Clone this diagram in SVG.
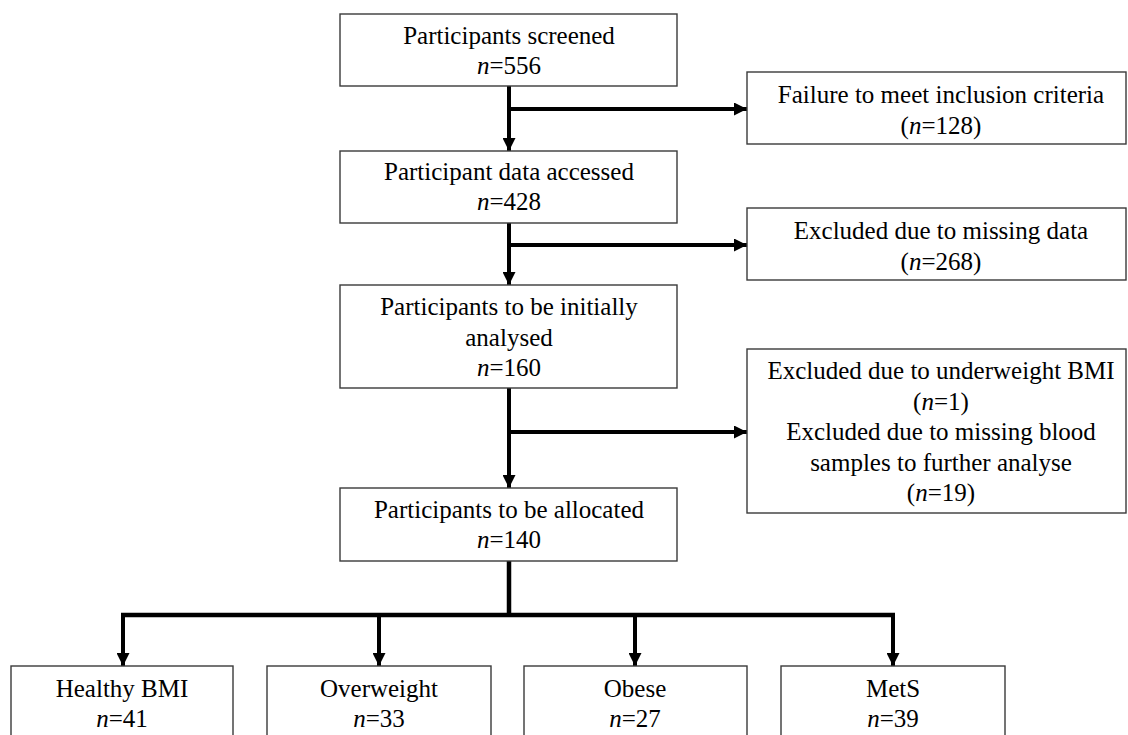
<svg xmlns="http://www.w3.org/2000/svg" width="1128" height="735" viewBox="0 0 1128 735">
<style>
.box{fill:#fff;stroke:#3a3a3a;stroke-width:1.4}
.t{font-family:"Liberation Serif","Times New Roman",serif;font-size:25px;fill:#000;text-anchor:middle}
.i{font-style:italic}
.ln{fill:none;stroke:#000;stroke-width:4.5}
.ar{fill:none;stroke:#000;stroke-width:4;marker-end:url(#ah)}
</style>
<defs>
<marker id="ah" markerUnits="userSpaceOnUse" markerWidth="13" markerHeight="13" refX="13" refY="6.5" orient="auto">
<path d="M0,0 L13,6.5 L0,13 z" fill="#000"/>
</marker>
</defs>
<rect width="1128" height="735" fill="#fff"/>
<g id="connectors">
<path class="ar" d="M509,86 V151"/>
<path class="ar" d="M509,109 H747"/>
<path class="ar" d="M509,223 V285"/>
<path class="ar" d="M509,245 H747"/>
<path class="ar" d="M509,388 V488"/>
<path class="ar" d="M509,432 H747"/>
<path class="ln" d="M509,561 V615"/>
<path class="ln" d="M121,615 H895"/>
<path class="ar" d="M123,613 V666"/>
<path class="ar" d="M379,613 V666"/>
<path class="ar" d="M635,613 V666"/>
<path class="ar" d="M893,613 V666"/>
</g>
<g id="screened">
<rect class="box" x="340" y="14" width="337" height="72"/>
<text class="t" x="509" y="44">Participants screened</text>
<text class="t" x="509" y="74"><tspan class="i">n</tspan>=556</text>
</g>
<g id="accessed">
<rect class="box" x="340" y="151" width="337" height="72"/>
<text class="t" x="509" y="180">Participant data accessed</text>
<text class="t" x="509" y="210"><tspan class="i">n</tspan>=428</text>
</g>
<g id="initial">
<rect class="box" x="340" y="285" width="337" height="103"/>
<text class="t" x="509" y="315">Participants to be initially</text>
<text class="t" x="509" y="346">analysed</text>
<text class="t" x="509" y="376"><tspan class="i">n</tspan>=160</text>
</g>
<g id="allocated">
<rect class="box" x="340" y="488" width="337" height="73"/>
<text class="t" x="509" y="518">Participants to be allocated</text>
<text class="t" x="509" y="548"><tspan class="i">n</tspan>=140</text>
</g>
<g id="fail">
<rect class="box" x="747" y="72" width="379" height="72"/>
<text class="t" x="941" y="103">Failure to meet inclusion criteria</text>
<text class="t" x="941" y="134">(<tspan class="i">n</tspan>=128)</text>
</g>
<g id="missing">
<rect class="box" x="747" y="208" width="379" height="72"/>
<text class="t" x="941" y="239">Excluded due to missing data</text>
<text class="t" x="941" y="270">(<tspan class="i">n</tspan>=268)</text>
</g>
<g id="underweight">
<rect class="box" x="747" y="349" width="379" height="164"/>
<text class="t" x="941" y="379">Excluded due to underweight BMI</text>
<text class="t" x="941" y="410">(<tspan class="i">n</tspan>=1)</text>
<text class="t" x="941" y="440">Excluded due to missing blood</text>
<text class="t" x="941" y="471">samples to further analyse</text>
<text class="t" x="941" y="501">(<tspan class="i">n</tspan>=19)</text>
</g>
<g id="healthy">
<rect class="box" x="11" y="666" width="222" height="80"/>
<text class="t" x="122" y="697">Healthy BMI</text>
<text class="t" x="122" y="727"><tspan class="i">n</tspan>=41</text>
</g>
<g id="overweight">
<rect class="box" x="267" y="666" width="224" height="80"/>
<text class="t" x="379" y="697">Overweight</text>
<text class="t" x="379" y="727"><tspan class="i">n</tspan>=33</text>
</g>
<g id="obese">
<rect class="box" x="524" y="666" width="223" height="80"/>
<text class="t" x="635" y="697">Obese</text>
<text class="t" x="635" y="727"><tspan class="i">n</tspan>=27</text>
</g>
<g id="mets">
<rect class="box" x="781" y="666" width="224" height="80"/>
<text class="t" x="893" y="697">MetS</text>
<text class="t" x="893" y="727"><tspan class="i">n</tspan>=39</text>
</g>
</svg>
